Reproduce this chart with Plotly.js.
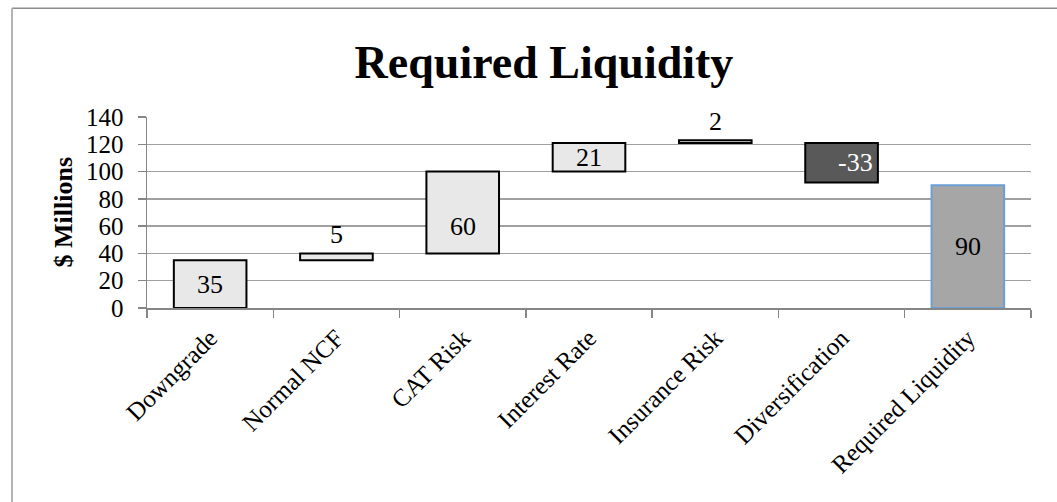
<!DOCTYPE html>
<html>
<head>
<meta charset="utf-8">
<script src="https://cdn.plot.ly/plotly-3.0.1.min.js"></script>
<style>
  html, body { margin: 0; padding: 0; background: #ffffff; }
  #chart { width: 1057px; height: 502px; }
</style>
</head>
<body>
<div id="chart"></div>
<script>
// ---- data ----
const categories = ["Downgrade", "Normal NCF", "CAT Risk", "Interest Rate", "Insurance Risk", "Diversification", "Required Liquidity"];
const labelValues = [35, 5, 60, 21, 2, -33, 90];
const barBottom = [0, 35, 40, 100, 121, 92, 0];
const barTop = [35, 40, 100, 121, 123, 121, 90];
const yTicks = [0, 20, 40, 60, 80, 100, 120, 140];

// ---- styling ----
const serif = "Liberation Serif, Times New Roman, serif";
const fillColors = ["#e8e8e8", "#e8e8e8", "#e8e8e8", "#e8e8e8", "#e8e8e8", "#595959", "#a6a6a6"];
const lineColors = ["#000000", "#000000", "#000000", "#000000", "#000000", "#000000", "#6a9fd8"];
const labelPlacement = ["inside", "outside", "inside", "inside", "outside", "inside", "inside"];
const labelColors = ["#000000", "#000000", "#000000", "#000000", "#000000", "#ffffff", "#000000"];
const labelXShift = [0, 0, 0, 0, 0, 14, 0];
const labelYShift = [0, 2, -14, 0, 2, 0, 0];

const heights = barTop.map((t, i) => t - barBottom[i]);

const trace = {
  type: "bar",
  x: categories,
  y: heights,
  base: barBottom,
  width: 0.575,
  marker: {
    color: fillColors,
    line: { color: lineColors, width: 2 }
  },
  hoverinfo: "skip",
  showlegend: false
};

const annotations = categories.map((c, i) => {
  const inside = labelPlacement[i] === "inside";
  return {
    x: c,
    y: inside ? (barBottom[i] + barTop[i]) / 2 : barTop[i],
    xref: "x", yref: "y",
    text: String(labelValues[i]),
    showarrow: false,
    yanchor: inside ? "middle" : "bottom",
    xshift: labelXShift[i],
    yshift: labelYShift[i],
    font: { family: serif, size: 26, color: labelColors[i] }
  };
});

annotations.push({
  xref: "paper", yref: "paper",
  x: (63 - 147) / 884, y: 0.5,
  text: "<b>$ Millions</b>",
  textangle: -90,
  showarrow: false,
  xanchor: "center", yanchor: "middle",
  font: { family: serif, size: 26, color: "#000000" }
});

const layout = {
  width: 1057,
  height: 502,
  margin: { l: 147, r: 26, t: 117, b: 194 },
  paper_bgcolor: "#ffffff",
  plot_bgcolor: "#ffffff",
  title: {
    text: "<b>Required Liquidity</b>",
    font: { family: serif, size: 46, color: "#000000" },
    xref: "container", yref: "container",
    x: 544 / 1057, y: 1 - 62 / 502,
    xanchor: "center", yanchor: "middle"
  },
  xaxis: {
    type: "category",
    tickangle: -45,
    ticks: "outside",
    tickson: "boundaries",
    ticklen: 8,
    tickcolor: "#868686",
    tickwidth: 1.5,
    ticklabelstandoff: 4,
    showline: true,
    linecolor: "#868686",
    linewidth: 1.5,
    showgrid: false,
    tickfont: { family: serif, size: 25, color: "#000000" },
    fixedrange: true
  },
  yaxis: {
    range: [0, 140],
    tickvals: yTicks,
    ticktext: yTicks.map(String),
    ticks: "outside",
    ticklen: 8,
    tickcolor: "#868686",
    tickwidth: 1.5,
    ticklabelstandoff: 9,
    showline: true,
    linecolor: "#868686",
    linewidth: 1.5,
    showgrid: true,
    gridcolor: "#a0a0a0",
    gridwidth: 1.5,
    zeroline: false,
    tickfont: { family: serif, size: 25, color: "#000000" },
    fixedrange: true
  },
  annotations: annotations,
  shapes: [
    { type: "line", xref: "paper", yref: "paper",
      x0: (12 - 147) / 884, x1: (1060 - 147) / 884,
      y0: (307.7 - 8) / 191, y1: (307.7 - 8) / 191,
      line: { color: "#8c8c8c", width: 1.5 } },
    { type: "line", xref: "paper", yref: "paper",
      x0: (12 - 147) / 884, x1: (12 - 147) / 884,
      y0: (307.7 - 8) / 191, y1: (307.7 - 510) / 191,
      line: { color: "#b4b4b4", width: 2 } }
  ]
};

Plotly.newPlot("chart", [trace], layout, { displayModeBar: false, staticPlot: true });
</script>
</body>
</html>
